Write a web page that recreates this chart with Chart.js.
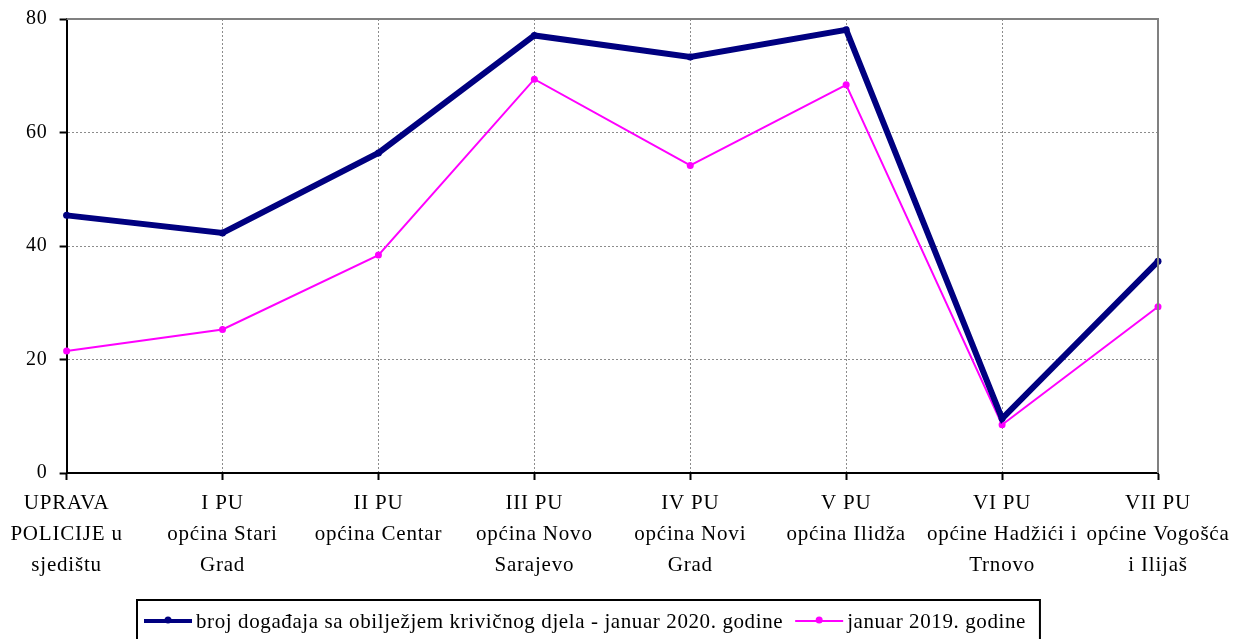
<!DOCTYPE html>
<html>
<head>
<meta charset="utf-8">
<script src="https://cdn.jsdelivr.net/npm/chart.js@4/dist/chart.umd.min.js"></script>
<style>
  html, body { margin: 0; padding: 0; background: #fff; }
  #wrap { width: 1233px; height: 639px; position: relative; }
</style>
</head>
<body>
<div id="wrap"><canvas id="myChart"></canvas></div>
<script>
const categories = [
    ["UPRAVA", "POLICIJE u", "sjedištu"],
    ["I PU", "općina Stari", "Grad"],
    ["II PU", "općina Centar"],
    ["III PU", "općina Novo", "Sarajevo"],
    ["IV PU", "općina Novi", "Grad"],
    ["V PU", "općina Ilidža"],
    ["VI PU", "općine Hadžići i", "Trnovo"],
    ["VII PU", "općine Vogošća", "i Ilijaš"]
];
const values2020 = [45.4, 42.3, 56.4, 77.1, 73.3, 78.1, 9.6, 37.3];
const values2019 = [21.5, 25.3, 38.4, 69.4, 54.2, 68.4, 8.5, 29.3];
const label2020 = "broj događaja sa obilježjem krivičnog djela - januar 2020. godine";
const label2019 = "januar 2019. godine";
const yTicks = [0, 20, 40, 60, 80];

const FONT = "'Liberation Serif', 'Times New Roman', serif";

// the original text is set a little loose, so widen the letter spacing
const spacingPlugin = {
    id: 'spacing',
    beforeUpdate(chart){ chart.ctx.letterSpacing = '0.8px'; },
    beforeLayout(chart){ chart.ctx.letterSpacing = '0.8px'; },
    beforeDraw(chart){ chart.ctx.letterSpacing = '0.8px'; }
};

// solid gray frame on top and right, like the original
const framePlugin = {
    id: 'frame',
    afterDatasetsDraw(chart){
        const a = chart.chartArea, ctx = chart.ctx;
        ctx.save();
        ctx.strokeStyle = '#808080';
        ctx.lineWidth = 2;
        ctx.beginPath();
        ctx.moveTo(a.left, a.top);
        ctx.lineTo(a.right, a.top);
        ctx.lineTo(a.right, a.bottom);
        ctx.stroke();
        ctx.restore();
    }
};

// boxed legend with line + dot samples
const legendPlugin = {
    id: 'boxLegend',
    afterDraw(chart){
        const ctx = chart.ctx;
        ctx.save();
        ctx.font = "21px " + FONT;
        ctx.letterSpacing = '0.6px';
        ctx.textBaseline = 'middle';
        const boxLeft = 137, boxTop = 600, cy = 621;
        let x = boxLeft + 7;
        const sizes = chart.data.datasets.map(ds => ctx.measureText(ds.label).width);
        chart.data.datasets.forEach((ds, i) => {
            ctx.strokeStyle = ds.borderColor;
            ctx.fillStyle = ds.borderColor;
            ctx.lineWidth = i == 0 ? 4 : 2;
            ctx.beginPath();
            ctx.moveTo(x, cy);
            ctx.lineTo(x + 48, cy);
            ctx.stroke();
            ctx.beginPath();
            ctx.arc(x + 24, cy - 1, 3.5, 0, Math.PI * 2);
            ctx.fill();
            ctx.fillStyle = '#000';
            ctx.fillText(ds.label, x + 52, cy + 1);
            x += 52 + sizes[i] + 12;
        });
        const boxRight = x + 2;
        ctx.strokeStyle = '#000';
        ctx.lineWidth = 2;
        ctx.strokeRect(boxLeft, boxTop, boxRight - boxLeft, 60);
        ctx.restore();
    }
};

new Chart("myChart", {
    type: "line",
    data: {
        labels: categories,
        datasets: [{
            label: label2020,
            data: values2020,
            borderColor: "#000080",
            backgroundColor: "#000080",
            borderWidth: 6,
            pointRadius: 3.5,
            pointBorderWidth: 0,
            tension: 0
        },{
            label: label2019,
            data: values2019,
            borderColor: "#FF00FF",
            backgroundColor: "#FF00FF",
            borderWidth: 2,
            pointRadius: 3.5,
            pointBorderWidth: 0,
            tension: 0
        }]
    },
    options: {
        responsive: true,
        maintainAspectRatio: false,
        animation: false,
        layout: {padding: {left: 14, right: 0, top: 19, bottom: 50}},
        plugins: {
            legend: {display: false},
            tooltip: {enabled: false}
        },
        scales: {
            x: {
                offset: false,
                afterFit(scale){ scale.paddingRight = 75; },
                grid: {
                    color: '#8c8c8c',
                    lineWidth: 1,
                    tickColor: '#000',
                    tickBorderDash: [],
                    tickLength: 7,
                    tickWidth: 2
                },
                border: {color: '#000', width: 2, dash: [2, 2]},
                ticks: {
                    color: '#000',
                    font: {family: FONT, size: 21, lineHeight: 1.476},
                    padding: 8,
                    maxRotation: 0,
                    autoSkip: false
                }
            },
            y: {
                min: 0,
                max: 80,
                afterBuildTicks(scale){ scale.ticks = yTicks.map(v => ({value: v})); },
                afterFit(scale){ scale.paddingTop = 0; scale.paddingBottom = 0; },
                grid: {
                    color: '#8c8c8c',
                    lineWidth: 1,
                    tickColor: '#000',
                    tickBorderDash: [],
                    tickLength: 7,
                    tickWidth: 2
                },
                border: {color: '#000', width: 2, dash: [2, 2]},
                ticks: {
                    color: '#000',
                    font: {family: FONT, size: 20},
                    padding: 12
                }
            }
        }
    },
    plugins: [spacingPlugin, framePlugin, legendPlugin]
});
</script>
</body>
</html>
